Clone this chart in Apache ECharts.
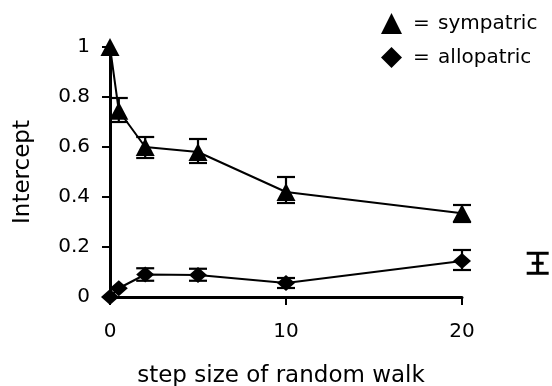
<!DOCTYPE html>
<html>
<head>
<meta charset="utf-8">
<script src="https://cdn.jsdelivr.net/npm/echarts@6/dist/echarts.min.js"></script>
<style>
  html, body { margin: 0; padding: 0; background: #fff; }
  #chart { width: 552px; height: 386px; }
</style>
</head>
<body>
<div id="chart"></div>
<script>
// step sizes of the random walk
const steps = [0, 0.5, 2, 5, 10, 20];

// sympatric intercepts and error limits
const sympatric = [1.0, 0.745, 0.60, 0.58, 0.42, 0.335];
const sympLow   = [null, 0.70, 0.556, 0.536, 0.376, 0.30];
const sympHigh  = [null, 0.796, 0.64, 0.632, 0.48, 0.368];

// allopatric intercepts and error limits
const allopatric = [0, 0.035, 0.09, 0.088, 0.056, 0.144];
const alloLow    = [null, null, 0.065, 0.065, 0.036, 0.108];
const alloHigh   = [null, null, 0.115, 0.113, 0.076, 0.188];

// lone reference error bar at the right: [x, mean, low, high]
const refBar = [24.3, 0.135, 0.095, 0.175];

const FONT = "DejaVu Sans";

function pairs(xs, ys) {
  return xs.map((x, i) => [x, ys[i]]);
}
function bars(xs, lo, hi) {
  const out = [];
  xs.forEach((x, i) => {
    if (lo[i] != null && hi[i] != null) out.push([x, lo[i], hi[i]]);
  });
  return out;
}

function errorBar(params, api) {
  const x = api.value(0);
  const top = api.coord([x, api.value(2)]);
  const bot = api.coord([x, api.value(1)]);
  const w = 9;
  const st = { stroke: "#000", lineWidth: 2.2 };
  return {
    type: "group",
    children: [
      { type: "line", shape: { x1: top[0], y1: top[1], x2: bot[0], y2: bot[1] }, style: st },
      { type: "line", shape: { x1: top[0] - w, y1: top[1], x2: top[0] + w, y2: top[1] }, style: st },
      { type: "line", shape: { x1: bot[0] - w, y1: bot[1], x2: bot[0] + w, y2: bot[1] }, style: st }
    ]
  };
}

const chart = echarts.init(document.getElementById("chart"));

const yBase = {
  type: "value", min: 0, max: 1, interval: 0.2,
  splitLine: { show: false }
};
const xBase = {
  type: "value", min: 0, max: 20, interval: 10,
  splitLine: { show: false }
};

chart.setOption({
  animation: false,
  backgroundColor: "#fff",
  grid: { left: 110, right: 90, top: 47, bottom: 89, containLabel: false, outerBoundsMode: "none" },
  legend: {
    orient: "vertical",
    left: 376,
    top: 8,
    itemWidth: 21,
    itemHeight: 21,
    itemGap: 13,
    textStyle: {
      fontFamily: FONT, fontSize: 20, color: "#000",
      rich: { eq: { fontFamily: FONT, fontSize: 20, color: "#000", padding: [0, 2, 0, 6] } }
    },
    formatter: function (name) { return "{eq|=} " + name; },
    data: [
      { name: "sympatric", icon: "triangle" },
      { name: "allopatric", icon: "diamond" }
    ]
  },
  xAxis: [
    Object.assign({}, xBase, {
      name: "step size of random walk",
      nameLocation: "middle",
      nameGap: 68,
      nameTextStyle: { fontFamily: FONT, fontSize: 23, color: "#000", padding: [0, 10, 0, 0] },
      axisLine: { show: true, lineStyle: { color: "#000", width: 3 } },
      axisTick: { show: true, length: 8, lineStyle: { color: "#000", width: 2 } },
      axisLabel: { margin: 25, fontFamily: FONT, fontSize: 20, color: "#000" }
    }),
    // second copy only for the inner half of the crossing ticks
    Object.assign({}, xBase, {
      axisLine: { show: false },
      axisTick: { show: true, inside: true, length: 8, lineStyle: { color: "#000", width: 2 } },
      axisLabel: { show: false }
    })
  ],
  yAxis: [
    Object.assign({}, yBase, {
      name: "Intercept",
      nameLocation: "middle",
      nameGap: 75,
      nameTextStyle: { fontFamily: FONT, fontSize: 23, color: "#000" },
      axisLine: { show: true, lineStyle: { color: "#000", width: 3 } },
      axisTick: { show: true, length: 8, lineStyle: { color: "#000", width: 2 } },
      axisLabel: { margin: 20, fontFamily: FONT, fontSize: 20, color: "#000" }
    }),
    Object.assign({}, yBase, {
      axisLine: { show: false },
      axisTick: { show: true, inside: true, length: 8, lineStyle: { color: "#000", width: 2 } },
      axisLabel: { show: false }
    })
  ],
  series: [
    {
      name: "sympErr",
      type: "custom",
      z: 1,
      clip: false,
      renderItem: errorBar,
      encode: { x: 0, y: [1, 2] },
      data: bars(steps, sympLow, sympHigh)
    },
    {
      name: "alloErr",
      type: "custom",
      z: 1,
      clip: false,
      renderItem: errorBar,
      encode: { x: 0, y: [1, 2] },
      data: bars(steps, alloLow, alloHigh)
    },
    {
      name: "sympatric",
      type: "line",
      z: 3,
      symbol: "triangle",
      symbolSize: [19, 18],
      itemStyle: { color: "#000" },
      lineStyle: { color: "#000", width: 2 },
      data: pairs(steps, sympatric)
    },
    {
      name: "allopatric",
      type: "line",
      z: 3,
      symbol: "diamond",
      symbolSize: [18, 16],
      itemStyle: { color: "#000" },
      lineStyle: { color: "#000", width: 2 },
      data: pairs(steps, allopatric)
    },
    {
      name: "refBar",
      type: "custom",
      z: 1,
      clip: false,
      encode: { x: 0, y: [2, 3] },
      renderItem: function (params, api) {
        const x = api.value(0);
        const mid = api.coord([x, api.value(1)]);
        const bot = api.coord([x, api.value(2)]);
        const top = api.coord([x, api.value(3)]);
        const st = { stroke: "#000", lineWidth: 3 };
        return {
          type: "group",
          children: [
            { type: "line", shape: { x1: top[0], y1: top[1], x2: bot[0], y2: bot[1] }, style: st },
            { type: "line", shape: { x1: top[0] - 11, y1: top[1], x2: top[0] + 11, y2: top[1] }, style: st },
            { type: "line", shape: { x1: bot[0] - 11, y1: bot[1], x2: bot[0] + 11, y2: bot[1] }, style: st },
            { type: "line", shape: { x1: mid[0] - 6, y1: mid[1], x2: mid[0] + 6, y2: mid[1] }, style: st }
          ]
        };
      },
      data: [refBar]
    }
  ]
});
</script>
</body>
</html>
